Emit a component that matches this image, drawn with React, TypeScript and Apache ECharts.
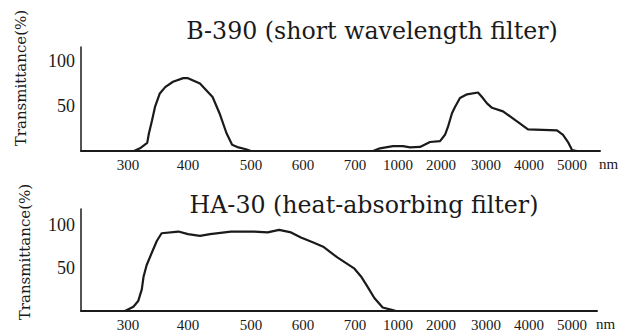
import { useEffect, useRef } from 'react';
import * as echarts from 'echarts';

// Wavelength tick marks (nm) and their labels
const TICK_WL = [300, 400, 500, 600, 700, 1000, 2000, 3000, 4000, 5000];
const TICK_LABELS = ['300', '400', '500', '600', '700', '1000', '2000', '3000', '4000', '5000'];
// Broken wavelength scale: position of each tick along the axis (axis units)
const TICK_POS = [47, 107, 170, 222, 274, 317, 360, 405, 448, 491];

const Y_LABELS = [50, 100];

// B-390 (short wavelength filter): [wavelength nm, transmittance %]
const B390_WL = [300, 310, 320, 332, 335, 340, 345, 353, 362, 375, 392, 400, 419, 439, 450, 461, 470, 480, 492, 500,
  826, 874, 965, 1116, 1279, 1512, 1744, 1977, 2089, 2156, 2244, 2311, 2422, 2578, 2822, 2911, 3023, 3140, 3395, 3721, 3977, 4651, 4791, 4907, 5000, 5116];
const B390_T = [0, 0, 3, 9, 20, 34, 49, 64, 71, 77, 81, 81, 75, 60, 42, 20, 7, 4, 2, 0,
  0, 3, 5.5, 5.5, 4, 4.5, 10, 11, 18, 27, 42, 49, 59, 63, 65, 60, 53, 48, 44, 33, 24, 23, 18, 10, 1, 0];

// HA-30 (heat-absorbing filter)
const HA30_WL = [290, 295, 309, 317, 323, 326, 331, 340, 348, 356, 384, 400, 419, 435, 468, 506, 532, 554, 577, 596,
  621, 640, 666, 699, 742, 788, 835, 893, 963, 986];
const HA30_T = [0, 0, 5, 11.5, 25, 40, 53, 68, 81, 90, 92, 89, 87, 89, 92, 92, 91, 94, 91, 85,
  79, 74, 62, 49, 40, 28, 15, 4, 1, 0];

function toPos(w: number): number {
  let i = 0;
  if (w <= TICK_WL[0]) i = 0;
  else if (w >= TICK_WL[TICK_WL.length - 1]) i = TICK_WL.length - 2;
  else {
    while (i < TICK_WL.length - 2 && w > TICK_WL[i + 1]) i++;
  }
  const w0 = TICK_WL[i], w1 = TICK_WL[i + 1];
  const p0 = TICK_POS[i], p1 = TICK_POS[i + 1];
  return p0 + ((w - w0) / (w1 - w0)) * (p1 - p0);
}

const INK = '#1a1a1a';
const NUM_FONT = 'Liberation Serif';
const TEXT_FONT = 'DejaVu Serif';

function xAxis(gridIndex: number, max: number) {
  return {
    type: 'value',
    gridIndex,
    min: 0,
    max,
    axisLine: { show: true, lineStyle: { color: INK, width: 2 } },
    axisTick: { show: false },
    splitLine: { show: false },
    axisLabel: {
      customValues: TICK_POS,
      formatter: (v: number) => {
        let best = 0;
        for (let i = 0; i < TICK_POS.length; i++) {
          if (Math.abs(TICK_POS[i] - v) < Math.abs(TICK_POS[best] - v)) best = i;
        }
        return TICK_LABELS[best];
      },
      fontSize: 15,
      fontFamily: NUM_FONT,
      color: INK,
      margin: 6,
    },
    name: 'nm',
    nameLocation: 'end',
    nameGap: -1,
    nameTextStyle: {
      fontSize: 15,
      fontFamily: NUM_FONT,
      color: INK,
      align: 'left',
      verticalAlign: 'top',
      padding: [5, 0, 0, 0],
    },
  };
}

function yAxis(gridIndex: number, max: number) {
  return {
    type: 'value',
    gridIndex,
    min: 0,
    max,
    axisLine: { show: true, lineStyle: { color: INK, width: 1.5 } },
    axisTick: { show: false },
    splitLine: { show: false },
    axisLabel: {
      customValues: Y_LABELS,
      fontSize: 18,
      fontFamily: NUM_FONT,
      color: INK,
      margin: 6,
    },
  };
}

function textEl(text: string, x: number, y: number, size: number, rotation = 0) {
  return {
    type: 'text',
    x,
    y,
    rotation,
    style: {
      text,
      fill: INK,
      font: `${size}px '${TEXT_FONT}'`,
      align: 'center',
      verticalAlign: 'middle',
      textAlign: 'center',
      textVerticalAlign: 'middle',
    },
  };
}

export default function App() {
  const ref = useRef<HTMLDivElement>(null);
  useEffect(() => {
    const chart = echarts.init(ref.current!, null, { renderer: 'svg' });
    const option = {
      animation: false,
      backgroundColor: '#ffffff',
      grid: [
        { left: 81, top: 47, width: 519, height: 104 },
        { left: 81, top: 209, width: 516, height: 104.5 },
      ],
      xAxis: [xAxis(0, 519), xAxis(1, 516)],
      yAxis: [yAxis(0, 115.6), yAxis(1, 118.1)],
      series: [
        {
          type: 'line',
          xAxisIndex: 0,
          yAxisIndex: 0,
          showSymbol: false,
          data: B390_WL.map((w, i) => [toPos(w), B390_T[i]]),
          lineStyle: { color: INK, width: 2.2 },
        },
        {
          type: 'line',
          xAxisIndex: 1,
          yAxisIndex: 1,
          showSymbol: false,
          data: HA30_WL.map((w, i) => [toPos(w), HA30_T[i]]),
          lineStyle: { color: INK, width: 2.2 },
        },
      ],
      graphic: [
        textEl('B-390 (short wavelength filter)', 372, 31, 23.7),
        textEl('HA-30 (heat-absorbing filter)', 364, 205, 23.7),
        textEl('Transmittance(%)', 21, 78, 15, Math.PI / 2),
        textEl('Transmittance(%)', 25, 252, 15, Math.PI / 2),
      ],
    };
    chart.setOption(option as any);
    return () => chart.dispose();
  }, []);
  return (
    <div
      ref={ref}
      style={{ position: 'absolute', left: 0, top: 0, width: 620, height: 332, background: '#fff' }}
    />
  );
}
